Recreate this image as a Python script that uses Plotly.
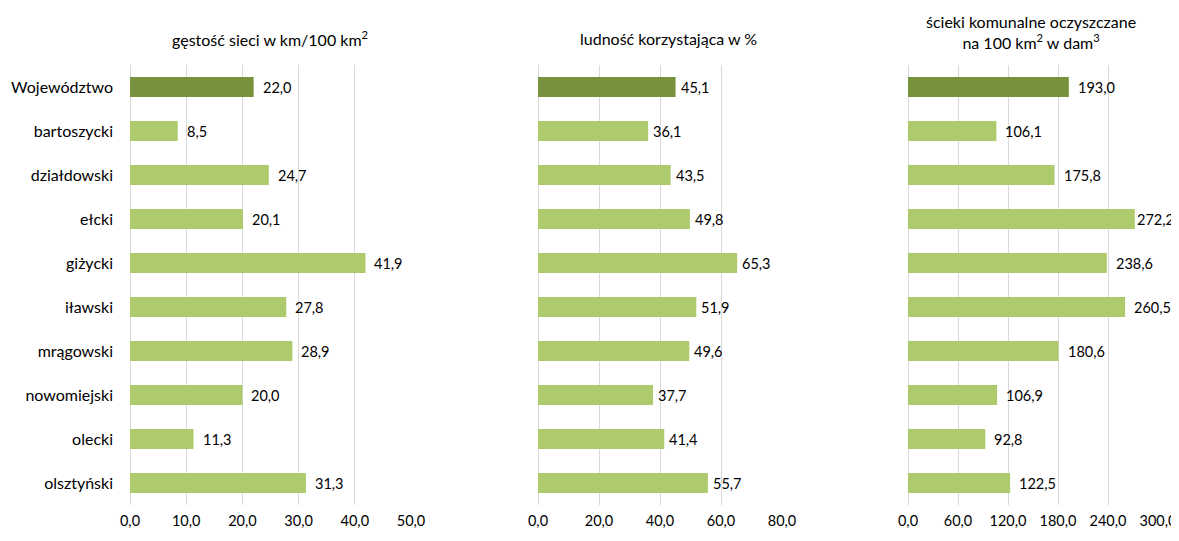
import plotly.graph_objects as go

categories = ["Województwo", "bartoszycki", "działdowski", "ełcki", "giżycki",
              "iławski", "mrągowski", "nowomiejski", "olecki", "olsztyński"]
gestosc = [22.0, 8.5, 24.7, 20.1, 41.9, 27.8, 28.9, 20.0, 11.3, 31.3]
ludnosc = [45.1, 36.1, 43.5, 49.8, 65.3, 51.9, 49.6, 37.7, 41.4, 55.7]
scieki = [193.0, 106.1, 175.8, 272.2, 238.6, 260.5, 180.6, 106.9, 92.8, 122.5]

titles = ["gęstość sieci w km/100 km<sup>2</sup>",
          "ludność korzystająca w %",
          "ścieki komunalne oczyszczane<br>na 100 km<sup>2</sup> w dam<sup>3</sup>"]
ticks1 = [0, 10, 20, 30, 40, 50]
ticks2 = [0, 20, 40, 60, 80]
ticks3 = [0, 60, 120, 180, 240, 300]

DARK = "#76923C"
LIGHT = "#ADCB6C"
FONT = "Lato"
OFF = 8  # default page body margin
W, H = 1179 - OFF, 541 - OFF
MT, MB = 65 - OFF, 36
PH = H - MT - MB
RIGHT_LIMIT = 1171  # page px that value labels should not pass
LABEL_W = 38        # approx width of a 5-char value label


def px(p):
    return (p - OFF) / W


dom_px = [[130, 411], [538, 782], [908, 1158]]
domains = [[px(a), px(b)] for a, b in dom_px]
ranges = [[0, 50], [0, 80], [0, 300]]
tickss = [ticks1, ticks2, ticks3]
series = [gestosc, ludnosc, scieki]
gaps = [7, 3, 7]
title_px = [38, 38, 32]
title_cx = [270, 668, 1031]

fig = go.Figure()
annotations = []
colors = [DARK] + [LIGHT] * (len(categories) - 1)

for i, (vals, dom, rng, tks, gap) in enumerate(zip(series, domains, ranges, tickss, gaps)):
    n = "" if i == 0 else str(i + 1)
    fig.add_trace(go.Bar(
        x=vals, y=categories, orientation="h",
        marker=dict(color=colors, line=dict(width=0)),
        width=0.46, xaxis="x" + n, yaxis="y" + n, showlegend=False,
        hoverinfo="x+y",
    ))
    a, b = dom_px[i]
    for c, v in zip(categories, vals):
        end = a + (v - rng[0]) / (rng[1] - rng[0]) * (b - a)
        shift = max(0, min(gap, RIGHT_LIMIT - LABEL_W - end))
        annotations.append(dict(
            x=v, y=c, xref="x" + n, yref="y" + n, text=f"{v:.1f}".replace(".", ","),
            showarrow=False, xanchor="left", yanchor="middle", xshift=shift,
            font=dict(family=FONT, size=14.5, color="#000000"),
        ))
    xa = dict(domain=dom, range=rng, tickvals=tks,
              ticktext=[f"{t:.1f}".replace(".", ",") for t in tks],
              showgrid=True, gridcolor="#D9D9D9", gridwidth=1,
              zeroline=True, zerolinecolor="#D9D9D9", zerolinewidth=1,
              showline=False, ticks="", fixedrange=True, automargin=False,
              ticklabelstandoff=5,
              tickfont=dict(family=FONT, size=14.5, color="#000000"),
              anchor="y" + n)
    ya = dict(domain=[0, 1], categoryorder="array", categoryarray=categories,
              autorange="reversed", showgrid=False, zeroline=False, showline=False,
              ticks="", anchor="x" + n, fixedrange=True, automargin=False,
              showticklabels=(i == 0),
              tickfont=dict(family=FONT, size=16, color="#000000"))
    if i == 0:
        ya["ticklabelstandoff"] = 16
    fig.update_layout(**{"xaxis" + n: xa, "yaxis" + n: ya})
    annotations.append(dict(
        x=px(title_cx[i]), y=1 + (65 - title_px[i]) / PH, xref="paper", yref="paper",
        text=titles[i], showarrow=False, xanchor="center", yanchor="middle",
        font=dict(family=FONT, size=16, color="#000000"),
    ))

fig.update_layout(
    width=W, height=H,
    margin=dict(l=0, r=0, t=MT, b=MB, autoexpand=False),
    paper_bgcolor="white", plot_bgcolor="white",
    annotations=annotations,
)

fig.write_html("out.html")
